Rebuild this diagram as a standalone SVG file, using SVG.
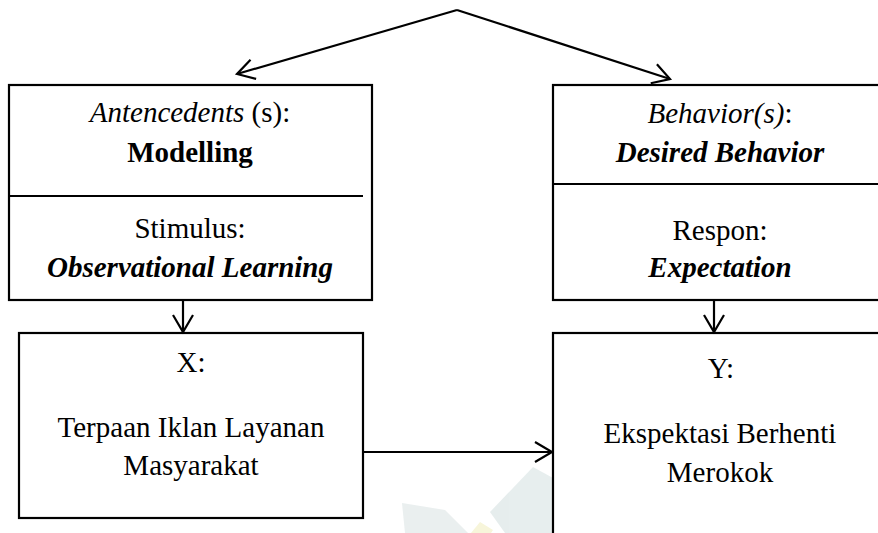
<svg xmlns="http://www.w3.org/2000/svg" width="878" height="533" viewBox="0 0 878 533">
<style>
.box{fill:#fff;stroke:#000;stroke-width:2.2}
.ln{stroke:#000;stroke-width:2.2;fill:none}
text{font-family:"Liberation Serif","Times New Roman",serif;font-size:29px;fill:#000;text-anchor:middle}
.i{font-style:italic}
.b{font-weight:bold}
.bi{font-weight:bold;font-style:italic}
</style>
<defs>
<marker id="arr" viewBox="0 0 22 24" refX="19" refY="12" markerWidth="22" markerHeight="24" markerUnits="userSpaceOnUse" orient="auto">
<path d="M2,2 L19,12 L2,22" fill="none" stroke="#000" stroke-width="2.2"/>
</marker>
</defs>
<rect width="878" height="533" fill="#fff"/>
<g id="watermark" opacity="0.9">
<polygon points="533,467 553,478 553,533 505,533 490,512" fill="#e4ecec"/>
<polygon points="402,503 445,510 468,533 405,533" fill="#e8eeee"/>
<polygon points="471,533 480,522 493,530 491,533" fill="#f7f5d6"/>
</g>
<g id="antecedents">
<rect class="box" x="9" y="85" width="363" height="215"/>
<line class="ln" x1="9" y1="196" x2="363" y2="196"/>
<text x="190" y="122"><tspan class="i">Antencedents</tspan> (s):</text>
<text x="190" y="162" class="b">Modelling</text>
<text x="190" y="238">Stimulus:</text>
<text x="190" y="277" class="bi">Observational Learning</text>
</g>
<g id="behavior">
<rect class="box" x="553" y="85" width="340" height="215"/>
<line class="ln" x1="553" y1="184" x2="878" y2="184"/>
<text x="720" y="123"><tspan class="i">Behavior(s)</tspan>:</text>
<text x="720" y="162" class="bi">Desired Behavior</text>
<text x="720" y="240">Respon:</text>
<text x="720" y="277" class="bi">Expectation</text>
</g>
<g id="x">
<rect class="box" x="19" y="333" width="344" height="185"/>
<text x="191" y="372">X:</text>
<text x="191" y="437">Terpaan Iklan Layanan</text>
<text x="191" y="475">Masyarakat</text>
</g>
<g id="y">
<rect class="box" x="553" y="333" width="340" height="220"/>
<text x="721" y="378">Y:</text>
<text x="720" y="443">Ekspektasi Berhenti</text>
<text x="720" y="482">Merokok</text>
</g>
<g id="connectors">
<line class="ln" x1="457" y1="10" x2="237" y2="74" marker-end="url(#arr)"/>
<line class="ln" x1="457" y1="10" x2="670" y2="79" marker-end="url(#arr)"/>
<line class="ln" x1="183" y1="300" x2="183" y2="332" marker-end="url(#arr)"/>
<line class="ln" x1="714" y1="300" x2="714" y2="332" marker-end="url(#arr)"/>
<line class="ln" x1="363" y1="452" x2="552" y2="452" marker-end="url(#arr)"/>
</g>
</svg>
